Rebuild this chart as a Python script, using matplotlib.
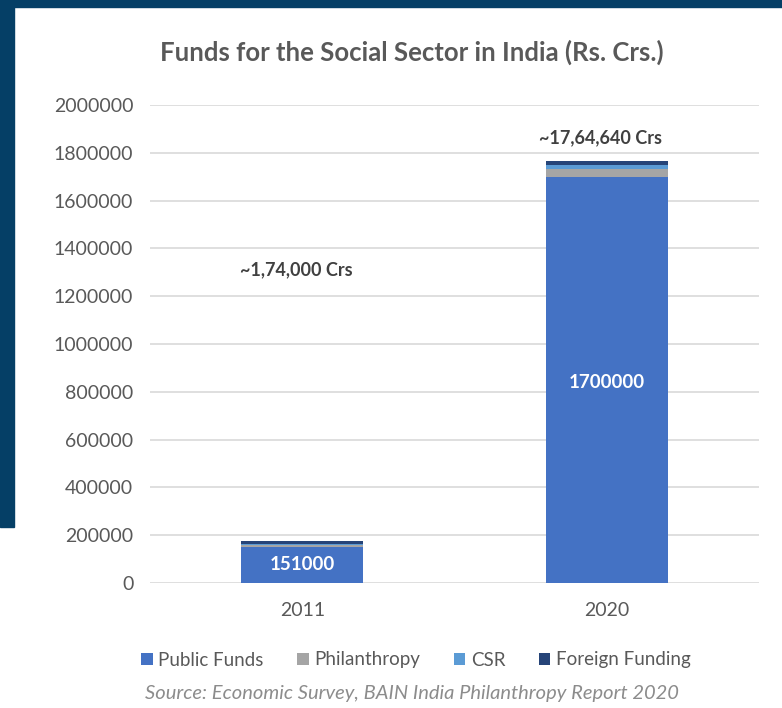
import matplotlib
matplotlib.use('Agg')
import matplotlib.pyplot as plt
import numpy as np
from matplotlib.patches import Rectangle

plt.rcParams['font.family'] = ['Lato', 'DejaVu Sans']

years = ['2011', '2020']
public_funds = [151000, 1700000]
philanthropy = [10000, 31000]
csr = [2000, 19000]
foreign = [11000, 14640]
totals_text = ['~1,74,000 Crs', '~17,64,640 Crs']
total_label_y = [1310000, 1865000]
yticks = np.arange(0, 2000001, 200000)

series = [('Public Funds', public_funds, '#4472C4'),
          ('Philanthropy', philanthropy, '#A5A5A5'),
          ('CSR', csr, '#5B9BD5'),
          ('Foreign Funding', foreign, '#264478')]

txt = '#595959'
fig = plt.figure(figsize=(7.82, 7.08), dpi=100)

# dark blue frame on the top and left
fig.patches.append(Rectangle((0, 1 - 7/708), 1, 7/708, transform=fig.transFigure,
                             color='#053F66', zorder=0))
fig.patches.append(Rectangle((0, 1 - 527/708), 14/782, 527/708, transform=fig.transFigure,
                             color='#053F66', zorder=0))

ax = fig.add_axes([150/782, 1 - 583/708, 609/782, 478/708])
x = np.arange(len(years))
bottom = np.zeros(len(years))
for name, vals, col in series:
    ax.bar(x, vals, 0.4, bottom=bottom, color=col, label=name, zorder=3)
    bottom += np.array(vals)

ax.set_xlim(-0.5, 1.5)
ax.set_ylim(0, 2000000)
ax.set_yticks(yticks)
ax.set_yticklabels([str(v) for v in yticks])
ax.set_xticks(x)
ax.set_xticklabels(years)
ax.tick_params(length=0, labelsize=14, colors=txt, pad=12)
ax.tick_params(axis='x', pad=14)
for s in ax.spines.values():
    s.set_visible(False)
ax.grid(axis='y', color='#D9D9D9', linewidth=1.2, zorder=0)

for i in range(len(years)):
    ax.text(x[i], public_funds[i] / 2 if i == 0 else 840000, str(public_funds[i]),
            ha='center', va='center', color='white', fontsize=13.5, fontweight='bold', zorder=4)
    ax.text(x[i] - 0.02, total_label_y[i], totals_text[i], ha='center', va='center',
            color='#404040', fontsize=13, fontweight='bold')

fig.text(412/782, 1 - 52/708, 'Funds for the Social Sector in India (Rs. Crs.)',
         ha='center', va='center', fontsize=18.5, fontweight='bold', color=txt)

handles, labels = ax.get_legend_handles_labels()
fig.legend(handles, labels, loc='center', bbox_to_anchor=(416/782, 1 - 660/708), ncol=4,
           frameon=False, fontsize=13.5, labelcolor=txt, handlelength=0.6, handleheight=0.6,
           handletextpad=0.3, columnspacing=1.8)

fig.text(412/782, 1 - 694/708, 'Source: Economic Survey, BAIN India Philanthropy Report 2020',
         ha='center', va='center', fontsize=14.5, style='italic', color='#8C8C8C')

fig.savefig('out.png', dpi=100)
